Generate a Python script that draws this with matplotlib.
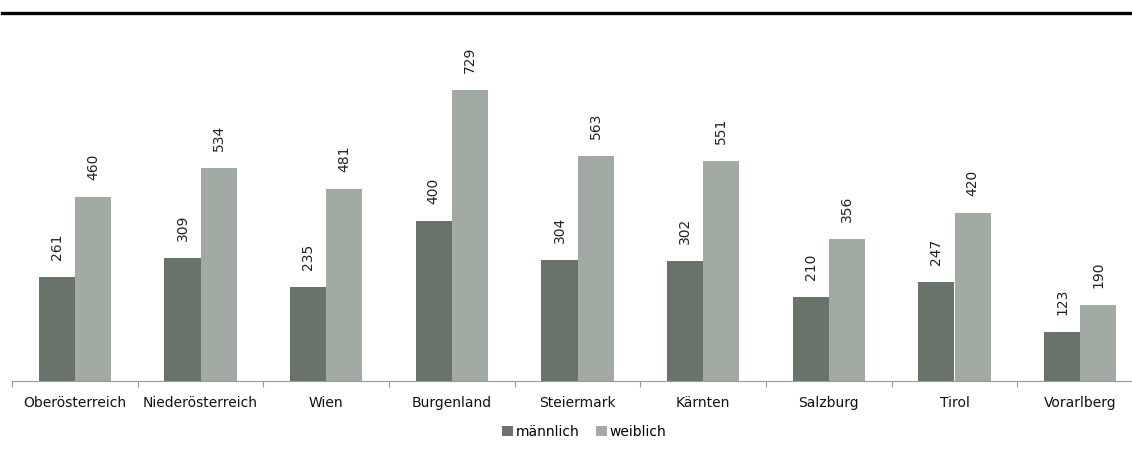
import matplotlib
matplotlib.use("Agg")
import matplotlib.pyplot as plt
import numpy as np
from matplotlib.patches import Patch
from matplotlib.lines import Line2D

categories = ["Oberösterreich", "Niederösterreich", "Wien", "Burgenland", "Steiermark",
              "Kärnten", "Salzburg", "Tirol", "Vorarlberg"]
maennlich = [261, 309, 235, 400, 304, 302, 210, 247, 123]
weiblich = [460, 534, 481, 729, 563, 551, 356, 420, 190]
series_names = ["männlich", "weiblich"]
colors = ["#68736a", "#a2aaa4"]

W, H = 1132, 454
fig = plt.figure(figsize=(W / 100, H / 100), dpi=100)
plt.rcParams['font.family'] = ['DejaVu Sans']

left_px, right_px = 12, 1143
base_px = 381
px_per_unit = 0.399
ymax = 800
ax = fig.add_axes([left_px / W, (H - base_px) / H, (right_px - left_px) / W, ymax * px_per_unit / H])

n = len(categories)
x = np.arange(n)
bw = 0.287
ax.bar(x - bw / 2, maennlich, bw, color=colors[0], label=series_names[0])
ax.bar(x + bw / 2, weiblich, bw, color=colors[1], label=series_names[1])

for xi, v in zip(x - bw / 2, maennlich):
    ax.annotate(str(v), (xi, v), xytext=(0, 17), textcoords="offset pixels",
                rotation=90, ha="center", va="bottom", fontsize=10, color="#222222")
for xi, v in zip(x + bw / 2, weiblich):
    ax.annotate(str(v), (xi, v), xytext=(0, 17), textcoords="offset pixels",
                rotation=90, ha="center", va="bottom", fontsize=10, color="#222222")

ax.set_xlim(-0.5, n - 0.5)
ax.set_ylim(0, ymax)
for s in ["top", "right", "left"]:
    ax.spines[s].set_visible(False)
ax.spines["bottom"].set_color("#999999")
ax.spines["bottom"].set_linewidth(0.8)
ax.set_yticks([])
ax.set_xticks(x)
ax.set_xticklabels(categories, fontsize=10, color="#111111")
ax.tick_params(axis="x", which="major", length=0, pad=11)
ax.set_xticks(np.arange(n + 1) - 0.5, minor=True)
ax.tick_params(axis="x", which="minor", length=4, color="#999999", width=0.8)

handles = [Patch(facecolor=c, label=l) for c, l in zip(colors, series_names)]
fig.legend(handles=handles, loc="center", bbox_to_anchor=(584 / W, 1 - 432 / H), ncol=2,
           frameon=False, fontsize=10, handlelength=0.8, handleheight=0.8,
           handletextpad=0.2, columnspacing=1.2)

fig.add_artist(Line2D([2 / W, 1.0], [1 - 12.5 / H, 1 - 12.5 / H], color="black", linewidth=2.4,
                      transform=fig.transFigure))

fig.savefig("out.png", dpi=100)
